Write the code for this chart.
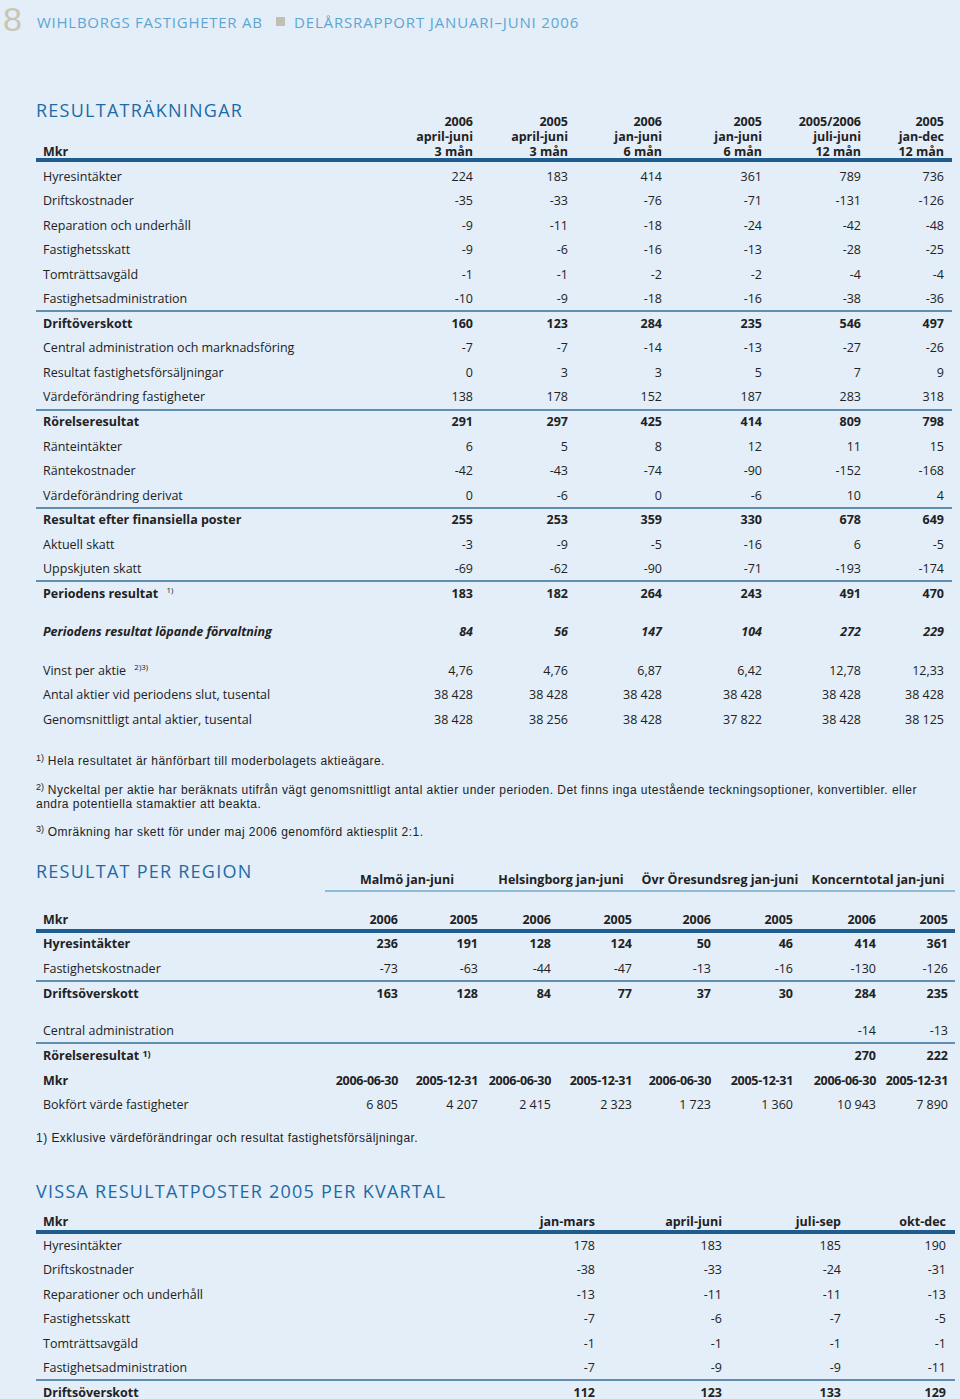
<!DOCTYPE html>
<html>
<head>
<meta charset="utf-8">
<script src="https://cdn.jsdelivr.net/npm/chart.js@4"></script>
<style>
  html, body { margin: 0; padding: 0; }
  body { width: 960px; height: 1399px; background: #e3eef9; position: relative; overflow: hidden;
         font-family: "Open Sans", "Noto Sans", sans-serif; color: #222; }
  .t { position: absolute; white-space: nowrap; line-height: 16px; height: 16px; font-size: 12.5px; }
  .b { font-weight: bold; }
  .i { font-style: italic; }
  .r { text-align: right; }
  .ln { position: absolute; }
  sup { font-size: 8px; vertical-align: 5px; line-height: 0; }
  .title { position: absolute; font-size: 18px; letter-spacing: 1.25px; color: #1d6aa5; white-space: nowrap; line-height: 26px; }
  .fn { position: absolute; font-family: "Liberation Sans", sans-serif; font-size: 12px; letter-spacing: 0.46px; white-space: nowrap; line-height: 14px; }
  .fn sup { font-size: 9px; vertical-align: 4px; letter-spacing: 0; }
</style>
</head>
<body>
<script>
// ---- Resultaträkningar ----
const resultHeads = [
  ['2006', 'april-juni', '3 mån'],
  ['2005', 'april-juni', '3 mån'],
  ['2006', 'jan-juni', '6 mån'],
  ['2005', 'jan-juni', '6 mån'],
  ['2005/2006', 'juli-juni', '12 mån'],
  ['2005', 'jan-dec', '12 mån']
];
const resultLabels = [
  'Hyresintäkter', 'Driftskostnader', 'Reparation och underhåll', 'Fastighetsskatt',
  'Tomträttsavgäld', 'Fastighetsadministration', 'Driftöverskott',
  'Central administration och marknadsföring', 'Resultat fastighetsförsäljningar',
  'Värdeförändring fastigheter', 'Rörelseresultat', 'Ränteintäkter', 'Räntekostnader',
  'Värdeförändring derivat', 'Resultat efter finansiella poster', 'Aktuell skatt',
  'Uppskjuten skatt', 'Periodens resultat'
];
const aprJun2006 = [224, -35, -9, -9, -1, -10, 160, -7, 0, 138, 291, 6, -42, 0, 255, -3, -69, 183];
const aprJun2005 = [183, -33, -11, -6, -1, -9, 123, -7, 3, 178, 297, 5, -43, -6, 253, -9, -62, 182];
const janJun2006 = [414, -76, -18, -16, -2, -18, 284, -14, 3, 152, 425, 8, -74, 0, 359, -5, -90, 264];
const janJun2005 = [361, -71, -24, -13, -2, -16, 235, -13, 5, 187, 414, 12, -90, -6, 330, -16, -71, 243];
const julJun0506 = [789, -131, -42, -28, -4, -38, 546, -27, 7, 283, 809, 11, -152, 10, 678, 6, -193, 491];
const janDec2005 = [736, -126, -48, -25, -4, -36, 497, -26, 9, 318, 798, 15, -168, 4, 649, -5, -174, 470];
const boldRows = [6, 10, 14, 17];

const lopandeLabel = 'Periodens resultat löpande förvaltning';
const lopandeValues = [84, 56, 147, 104, 272, 229];

const shareLabels = ['Vinst per aktie', 'Antal aktier vid periodens slut, tusental', 'Genomsnittligt antal aktier, tusental'];
const vinstPerAktie = [4.76, 4.76, 6.87, 6.42, 12.78, 12.33];
const antalAktier = [38428, 38428, 38428, 38428, 38428, 38428];
const snittAktier = [38428, 38256, 38428, 37822, 38428, 38125];

// ---- Resultat per region ----
const regionHeads = ['Malmö jan-juni', 'Helsingborg jan-juni', 'Övr Öresundsreg jan-juni', 'Koncerntotal jan-juni'];
const regionYears = ['2006', '2005', '2006', '2005', '2006', '2005', '2006', '2005'];
const regionHyres = [236, 191, 128, 124, 50, 46, 414, 361];
const regionKostnader = [-73, -63, -44, -47, -13, -16, -130, -126];
const regionDrift = [163, 128, 84, 77, 37, 30, 284, 235];
const regionCentral = [null, null, null, null, null, null, -14, -13];
const regionRorelse = [null, null, null, null, null, null, 270, 222];
const regionDates = ['2006-06-30', '2005-12-31', '2006-06-30', '2005-12-31', '2006-06-30', '2005-12-31', '2006-06-30', '2005-12-31'];
const regionBokfort = [6805, 4207, 2415, 2323, 1723, 1360, 10943, 7890];

// ---- Vissa resultatposter 2005 per kvartal ----
const quarterHeads = ['jan-mars', 'april-juni', 'juli-sep', 'okt-dec'];
const quarterLabels = ['Hyresintäkter', 'Driftskostnader', 'Reparationer och underhåll', 'Fastighetsskatt',
  'Tomträttsavgäld', 'Fastighetsadministration', 'Driftsöverskott'];
const q1_2005 = [178, -38, -13, -7, -1, -7, 112];
const q2_2005 = [183, -33, -11, -6, -1, -9, 123];
const q3_2005 = [185, -24, -11, -7, -1, -9, 133];
const q4_2005 = [190, -31, -13, -5, -1, -11, 129];

// ---------------------------------------------------------------
function fmt(v) {
  if (v === null || v === undefined) return '';
  if (!Number.isInteger(v)) return v.toFixed(2).replace('.', ',');
  const s = Math.abs(v).toString().replace(/\B(?=(\d{3})+(?!\d))/g, ' ');
  return (v < 0 ? '-' : '') + s;
}

// x = left edge (or right edge if right aligned), y = vertical centre
function put(x, y, html, cls, style) {
  const d = document.createElement('div');
  d.className = 't ' + (cls || '');
  d.innerHTML = html;
  if (cls && cls.indexOf('r') >= 0) d.style.right = (960 - x) + 'px';
  else d.style.left = x + 'px';
  d.style.top = (y - 8) + 'px';
  if (style) Object.assign(d.style, style);
  document.body.appendChild(d);
  return d;
}
function line(x1, x2, y, h, color) {
  const d = document.createElement('div');
  d.className = 'ln';
  Object.assign(d.style, { left: x1 + 'px', width: (x2 - x1) + 'px', top: (y - h / 2) + 'px', height: h + 'px', background: color });
  document.body.appendChild(d);
}
function title(x, y, text) {
  const d = document.createElement('div');
  d.className = 'title';
  d.textContent = text;
  d.style.left = x + 'px';
  d.style.top = (y - 13) + 'px';
  document.body.appendChild(d);
}
// y = centre of the first line
function footnote(x, y, html) {
  const d = document.createElement('div');
  d.className = 'fn';
  d.innerHTML = html;
  d.style.left = x + 'px';
  d.style.top = (y - 7) + 'px';
  document.body.appendChild(d);
  return d;
}

const THICK = '#1f5d90';
const THIN = '#5f8fb3';

// page header
const eight = document.createElement('div');
eight.textContent = '8';
Object.assign(eight.style, { position: 'absolute', left: '3px', top: '0px', fontFamily: '"Liberation Sans", sans-serif',
  fontSize: '34px', lineHeight: 'normal', color: '#c9c5b3' });
document.body.appendChild(eight);
put(37, 22, 'WIHLBORGS FASTIGHETER AB', '', { fontSize: '15px', color: '#5da6d2', letterSpacing: '0.75px', height: '20px', lineHeight: '20px', top: '12px' });
const sq = document.createElement('div');
Object.assign(sq.style, { position: 'absolute', left: '276px', top: '17px', width: '9px', height: '9px', background: '#c2c0b4' });
document.body.appendChild(sq);
put(294, 22, 'DELÅRSRAPPORT JANUARI–JUNI 2006', '', { fontSize: '15px', color: '#5da6d2', letterSpacing: '0.85px', height: '20px', lineHeight: '20px', top: '12px' });

// Resultaträkningar
title(36, 110, 'RESULTATRÄKNINGAR');
const resCols = [473, 568, 662, 762, 861, 944];
const resData = [aprJun2006, aprJun2005, janJun2006, janJun2005, julJun0506, janDec2005];
put(43, 152, 'Mkr', 'b');
resultHeads.forEach((h, c) => {
  h.forEach((s, k) => put(resCols[c], 122 + k * 15, s, 'b r'));
});
line(36, 952, 160, 3.5, THICK);
const rowStep = 24.55;
resultLabels.forEach((lab, r) => {
  const y = 176.5 + r * rowStep;
  const bold = boldRows.includes(r) ? 'b' : '';
  const labHtml = lab + (r === 17 ? ' <sup style="margin-left:5px;font-weight:normal">1)</sup>' : '');
  put(43, y, labHtml, bold);
  resData.forEach((col, c) => put(resCols[c], y, fmt(col[r]), bold + ' r'));
  if (bold && r > 0) line(36, 952, y - 12.5, 2, THIN);
});
put(43, 631.5, lopandeLabel, 'b i');
lopandeValues.forEach((v, c) => put(resCols[c], 631.5, fmt(v), 'b i r'));
const shareData = [vinstPerAktie, antalAktier, snittAktier];
shareLabels.forEach((lab, r) => {
  const y = 670.5 + r * rowStep;
  put(43, y, lab + (r === 0 ? ' <sup style="margin-left:5px">2)3)</sup>' : ''));
  shareData[r].forEach((v, c) => put(resCols[c], y, fmt(v), 'r'));
});

footnote(36, 761, '<sup>1)</sup> Hela resultatet är hänförbart till moderbolagets aktieägare.');
footnote(36, 790, '<sup>2)</sup> Nyckeltal per aktie har beräknats utifrån vägt genomsnittligt antal aktier under perioden. Det finns inga utestående teckningsoptioner, konvertibler. eller<br>andra potentiella stamaktier att beakta.');
footnote(36, 832, '<sup>3)</sup> Omräkning har skett för under maj 2006 genomförd aktiesplit 2:1.');

// Resultat per region
title(36, 871, 'RESULTAT PER REGION');
const regCenters = [407, 561, 720, 878];
regionHeads.forEach((h, i) => {
  put(regCenters[i] - 80, 880, h, 'b', { width: '160px', textAlign: 'center' });
});
line(325, 955, 891, 1.5, '#8dbcd9');
const regCols = [398, 478, 551, 632, 711, 793, 876, 948];
put(43, 919.5, 'Mkr', 'b');
regionYears.forEach((s, c) => put(regCols[c], 919.5, s, 'b r'));
line(36, 955, 931, 3.5, THICK);
const regRows = [
  ['Hyresintäkter', regionHyres, 'b', 943.5],
  ['Fastighetskostnader', regionKostnader, '', 968.5],
  ['Driftsöverskott', regionDrift, 'b', 993.5],
  ['Central administration', regionCentral, '', 1030.5],
  ['Rörelseresultat <sup style="vertical-align:3px;font-size:9px">1)</sup>', regionRorelse, 'b', 1055.5]
];
regRows.forEach(([lab, vals, cls, y]) => {
  put(43, y, lab, cls);
  vals.forEach((v, c) => put(regCols[c], y, fmt(v), cls + ' r'));
});
line(36, 955, 980.5, 2, THIN);
line(36, 955, 1043, 2, THIN);
put(43, 1080.5, 'Mkr', 'b');
regionDates.forEach((s, c) => put(regCols[c], 1080.5, s, 'b r', { letterSpacing: '-0.3px' }));
put(43, 1104.5, 'Bokfört värde fastigheter');
regionBokfort.forEach((v, c) => put(regCols[c], 1104.5, fmt(v), 'r'));
footnote(36, 1138, '1) Exklusive värdeförändringar och resultat fastighetsförsäljningar.');

// Vissa resultatposter 2005 per kvartal
title(36, 1191, 'VISSA RESULTATPOSTER 2005 PER KVARTAL');
const qCols = [595, 722, 841, 946];
const qData = [q1_2005, q2_2005, q3_2005, q4_2005];
put(43, 1221.5, 'Mkr', 'b');
quarterHeads.forEach((s, c) => put(qCols[c], 1221.5, s, 'b r'));
line(36, 955, 1232, 3.5, THICK);
quarterLabels.forEach((lab, r) => {
  const y = 1245.5 + r * rowStep;
  const cls = r === 6 ? 'b' : '';
  put(43, y, lab, cls);
  qData.forEach((col, c) => put(qCols[c], y, fmt(col[r]), cls + ' r'));
});
line(36, 955, 1380, 2, THIN);
</script>
</body>
</html>
